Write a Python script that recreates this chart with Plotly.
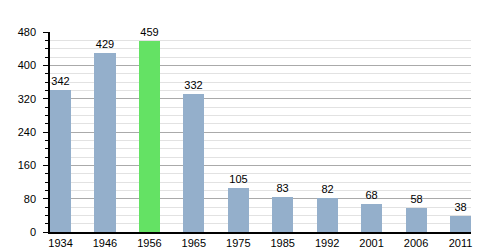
import plotly.graph_objects as go

years = ["1934", "1946", "1956", "1965", "1975", "1985", "1992", "2001", "2006", "2011"]
population = [342, 429, 459, 332, 105, 83, 82, 68, 58, 38]
highlight_year = "1956"
y_ticks = [0, 80, 160, 240, 320, 400, 480]

colors = ["#64e264" if y == highlight_year else "#94afcb" for y in years]

fig = go.Figure(go.Bar(
    x=years, y=population,
    marker=dict(color=colors, line=dict(width=0)),
    width=0.474,
    text=[str(v) for v in population],
    textposition="outside",
    textfont=dict(family="Liberation Sans, Arial", size=11, color="#000000"),
    cliponaxis=False,
))

fig.update_layout(
    width=500, height=250,
    margin=dict(l=50, r=29, t=32, b=18),
    paper_bgcolor="white", plot_bgcolor="white",
    showlegend=False,
    bargap=0,
    font=dict(family="Liberation Sans, Arial", size=11, color="#000"),
    xaxis=dict(
        type="category",
        range=[-0.237, 9.237],
        automargin=False,
        showgrid=False,
        showline=True, linecolor="#000", linewidth=1.5,
        ticks="", ticklen=0,
        tickfont=dict(size=11),
    ),
    yaxis=dict(
        range=[0, 480],
        automargin=False,
        tickvals=y_ticks,
        showgrid=True, gridcolor="#aaaaaa", gridwidth=1,
        showline=True, linecolor="#000", linewidth=1.5,
        ticks="outside", ticklen=5, tickcolor="#000",
        ticklabelstandoff=5,
        tickfont=dict(size=11),
        zeroline=False,
        minor=dict(dtick=20, showgrid=True, gridcolor="#e2e2e2", gridwidth=1,
                   ticks="outside", ticklen=3, tickcolor="#000"),
    ),
)

fig.write_html("out.html")
